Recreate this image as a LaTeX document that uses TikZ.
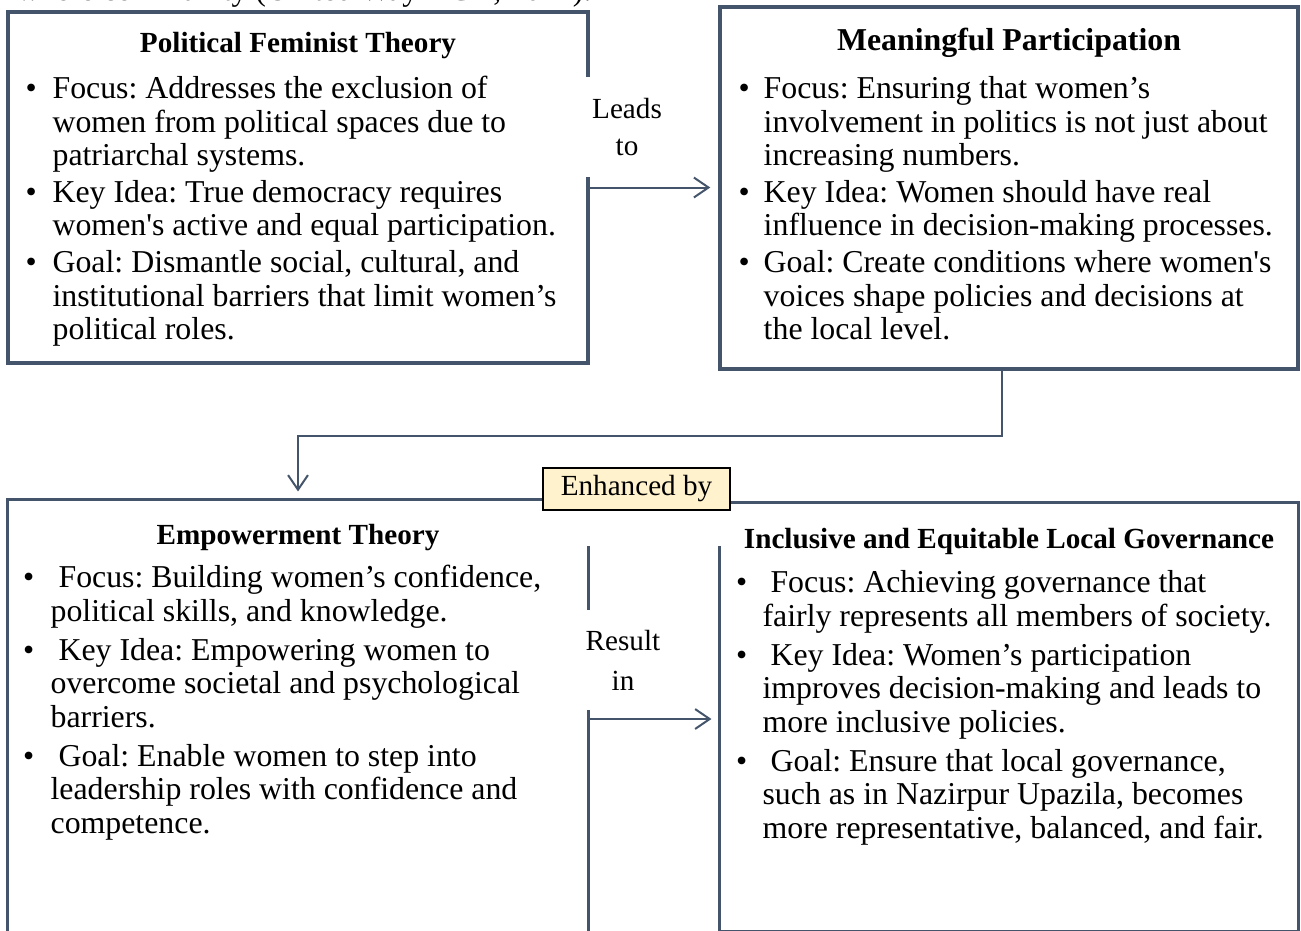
\documentclass[tikz,border=0pt]{standalone}
\usepackage{fontspec}
\setmainfont{Liberation Serif}[Ligatures=TeXOff]
\usetikzlibrary{arrows.meta,calc,fit}
\definecolor{slate}{HTML}{44546A}
\definecolor{note}{HTML}{FFF2CC}
\tikzset{frame/.style={draw=slate,line width=1.3pt}}
\tikzset{link/.style={draw=slate,line width=0.75pt,-{Straight Barb[length=5.5pt,width=7.5pt]}}}
\tikzset{head/.style={font=\fontsize{11}{13}\selectfont\bfseries,anchor=base,inner sep=0pt}}
\tikzset{body/.style={font=\fontsize{12}{12.63}\selectfont\frenchspacing,anchor=base west,inner sep=0pt}}
\tikzset{tag/.style={font=\fontsize{11}{14}\selectfont,align=center,fill=white,inner sep=0pt,minimum width=34pt,minimum height=37.7pt}}

\begin{document}
\begin{tikzpicture}[x=0.377pt,y=-0.377pt]
        \clip (0,0) rectangle (1301,930);
        \node[anchor=base east,inner sep=0pt,font=\fontsize{12}{14}\selectfont\frenchspacing] (cite) at (592,0) {whole community (United Way NCA, 2024).};
        \node[fit={(8,12) (588,363)},inner sep=0pt,frame] (pft) {};
        \node[fit={(720,7) (1298,369)},inner sep=0pt,frame] (mp) {};
        \node[fit={(8,500) (588,938)},inner sep=0pt] (emp) {};
        \node[fit={(720,503) (1298,931)},inner sep=0pt] (inc) {};
        \draw[frame] (emp.north east) -- (emp.north west) -- (emp.south west) -- (emp.south east) -- ($(emp.north east)+(0,47)$);
        \draw[frame] (inc.north west) -- (inc.north east) -- (inc.south east) -- (inc.south west) -- ($(inc.north west)+(0,44)$);
        \node[head] (pfthead) at ($(pft.north)+(0,42)$) {Political Feminist Theory};
        \node[head,font=\fontsize{12}{14}\selectfont\bfseries] (mphead) at ($(mp.north)+(0,45.5)$) {Meaningful Participation};
        \node[head] (emphead) at ($(emp.north)+(0,45)$) {Empowerment Theory};
        \node[head] (inchead) at ($(inc.north)+(0,46)$) {Inclusive and Equitable Local Governance};
        \node[body] (pftbody) at (25,98.5) {\begin{tabular}[t]{@{}l@{\hspace{6pt}}l@{}}
          \textbullet & Focus: Addresses the exclusion of\\
          & women from political spaces due to\\
          & patriarchal systems.\\[1.3pt]
          \textbullet & Key Idea: True democracy requires\\
          & women's active and equal participation.\\[1.3pt]
          \textbullet & Goal: Dismantle social, cultural, and\\
          & institutional barriers that limit women’s\\
          & political roles.
        \end{tabular}};
        \node[body] (mpbody) at (738,98.5) {\begin{tabular}[t]{@{}l@{\hspace{5.3pt}}l@{}}
          \textbullet & Focus: Ensuring that women’s\\
          & involvement in politics is not just about\\
          & increasing numbers.\\[1.3pt]
          \textbullet & Key Idea: Women should have real\\
          & influence in decision-making processes.\\[1.3pt]
          \textbullet & Goal: Create conditions where women's\\
          & voices shape policies and decisions at\\
          & the local level.
        \end{tabular}};
        \node[body] (empbody) at (22.5,587.5) {\begin{tabular}[t]{@{}l@{\hspace{6.2pt}}l@{}}
          \textbullet & \ Focus: Building women’s confidence,\\
          & political skills, and knowledge.\\[2.1pt]
          \textbullet & \ Key Idea: Empowering women to\\
          & overcome societal and psychological\\
          & barriers.\\[2.1pt]
          \textbullet & \ Goal: Enable women to step into\\
          & leadership roles with confidence and\\
          & competence.
        \end{tabular}};
        \node[body] (incbody) at (735.5,592.5) {\begin{tabular}[t]{@{}l@{\hspace{5.8pt}}l@{}}
          \textbullet & \ Focus: Achieving governance that\\
          & fairly represents all members of society.\\[2.1pt]
          \textbullet & \ Key Idea: Women’s participation\\
          & improves decision-making and leads to\\
          & more inclusive policies.\\[2.1pt]
          \textbullet & \ Goal: Ensure that local governance,\\
          & such as in Nazirpur Upazila, becomes\\
          & more representative, balanced, and fair.
        \end{tabular}};
        \node[tag] (leads) at (627,127) {Leads\\to};
        \node[tag,font=\fontsize{11}{15}\selectfont] (result) at (623,660) {Result\\in};
        \draw[link] (pft.east) -- ($(pft.east -| mp.west)+(-8,0)$);
        \draw[link] ($(mp.south)+(-7,0)$) -- ++(0,65) -| ($(emp.north)+(0,-8)$);
        \draw[link] (emp.east) -- ($(emp.east -| inc.west)+(-8,0)$);
        \node[draw=black,fill=note,line width=0.95pt,minimum width=70.5pt,minimum height=15.8pt,inner sep=0pt,font=\fontsize{11}{13}\selectfont] (enh) at (636.5,489) {Enhanced by};
      \end{tikzpicture}
\end{document}
